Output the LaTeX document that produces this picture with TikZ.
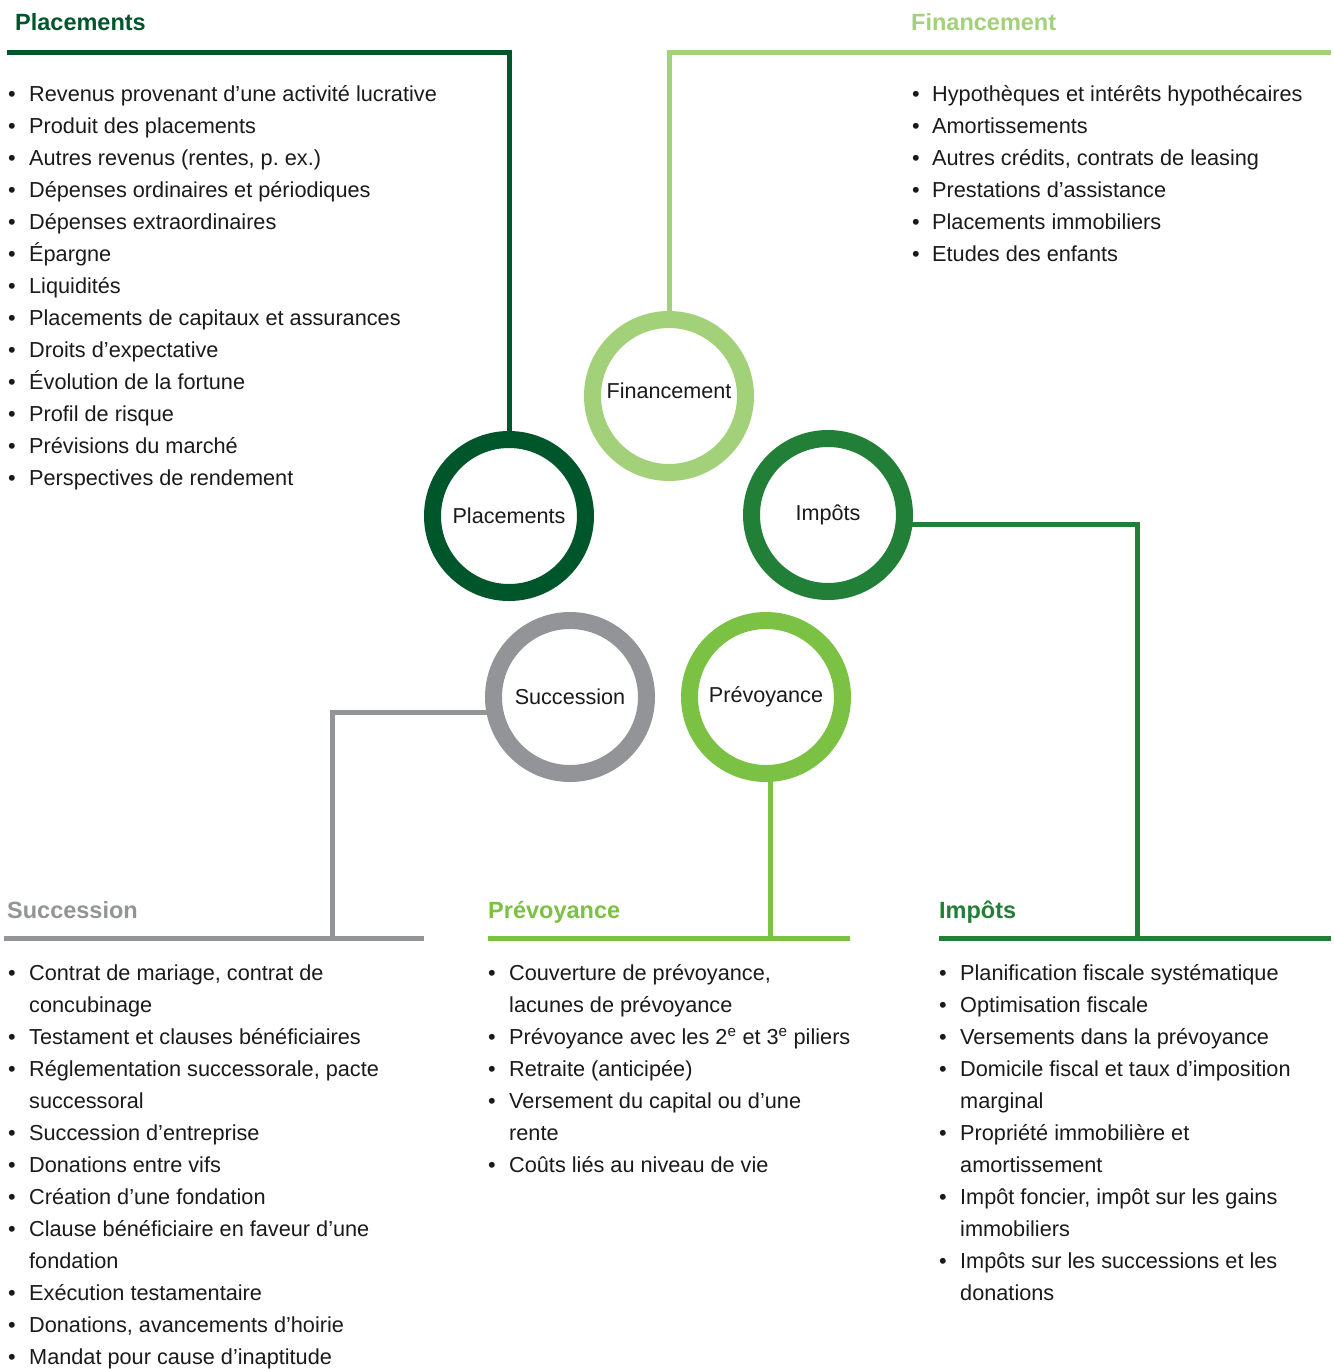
\documentclass[tikz,border=0pt]{standalone}
\usepackage{fontspec}
\setmainfont{Liberation Sans}
\definecolor{cplc}{HTML}{00562B}
\definecolor{cfin}{HTML}{A2D179}
\definecolor{cimp}{HTML}{217F37}
\definecolor{cprv}{HTML}{7BC143}
\definecolor{csuc}{HTML}{929497}
\definecolor{ctxt}{HTML}{1A1A1A}
\newcommand\blt[1][21pt]{\makebox[#1][l]{•}}
\newcommand\cnt[1][21pt]{\hspace*{#1}}
\tikzset{
  ring/.style={circle, draw=#1, line width=17pt, minimum size=153pt, inner sep=0pt, outer sep=0pt,
    font=\fontsize{21.6}{26}\selectfont, text=ctxt},
  conn/.style={draw=#1, line width=5pt, line join=miter, line cap=butt},
  head/.style={anchor=base west, inner sep=0pt, font=\fontsize{23.5}{28}\selectfont\bfseries, text=#1},
  lst/.style={anchor=base west, inner sep=0pt, align=left, font=\fontsize{21.7}{32}\selectfont, text=ctxt},
}
\begin{document}
\begin{tikzpicture}[x=1pt, y=-1pt]
\useasboundingbox[fill=white] (0,0) rectangle (1334,1369);

% circles
\node[ring=cplc] (P) at (509,516) {Placements};
\node[ring=cfin] (F) at (669,396) {\raisebox{10pt}{Financement}};
\node[ring=cimp] (I) at (828,515) {\raisebox{-2pt}{Impôts}};
\node[ring=csuc] (S) at (570,697) {\raisebox{-1pt}{Succession}};
\node[ring=cprv] (V) at (766,697) {\raisebox{-4pt}{Prévoyance}};

% free ends
\coordinate (pL) at (7,52.5);
\coordinate (fR) at (1331,52.5);
\coordinate (iK) at (1137.5,524);
\coordinate (iB) at (1137.5,938.5);
\coordinate (iL) at (939,938.5);
\coordinate (iR) at (1331,938.5);
\coordinate (vB) at (770,938.5);
\coordinate (vL) at (488,938.5);
\coordinate (vR) at (850,938.5);
\coordinate (sK) at (332.5,712.5);
\coordinate (sB) at (332.5,938.5);
\coordinate (sL) at (4,938.5);
\coordinate (sR) at (424,938.5);

% connectors
\draw[conn=cplc] (pL) -| (P.north);
\draw[conn=cfin] (fR) -| (F.north);
\draw[conn=cimp] ([yshift=-9pt]I.east) -- (iK) -- (iB);
\draw[conn=cimp] (iL) -- (iR);
\draw[conn=cprv] ([xshift=4pt]V.south) -- (vB);
\draw[conn=cprv] (vL) -- (vR);
\draw[conn=csuc] ([yshift=-15.5pt]S.west) -- (sK) -- (sB);
\draw[conn=csuc] (sL) -- (sR);

% headings
\node[head=cplc] (hP) at (15,30) {Placements};
\node[head=cfin] (hF) at (911,30) {Financement};
\node[head=csuc] (hS) at (7,918) {Succession};
\node[head=cprv] (hV) at (488,918) {Prévoyance};
\node[head=cimp] (hI) at (939,918) {Impôts};

% lists (anchor base = baseline of the last line)
\node[lst] (lP) at (8,485) {%
\blt Revenus provenant d’une activité lucrative\\
\blt Produit des placements\\
\blt Autres revenus (rentes, p.\ ex.)\\
\blt Dépenses ordinaires et périodiques\\
\blt Dépenses extraordinaires\\
\blt Épargne\\
\blt Liquidités\\
\blt Placements de capitaux et assurances\\
\blt Droits d’expectative\\
\blt Évolution de la fortune\\
\blt Profil de risque\\
\blt Prévisions du marché\\
\blt Perspectives de rendement};

\node[lst] (lF) at (912,261) {%
\blt[20pt]Hypothèques et intérêts hypothécaires\\
\blt[20pt]Amortissements\\
\blt[20pt]Autres crédits, contrats de leasing\\
\blt[20pt]Prestations d’assistance\\
\blt[20pt]Placements immobiliers\\
\blt[20pt]Etudes des enfants};

\node[lst] (lS) at (8,1364) {%
\blt Contrat de mariage, contrat de\\
\cnt concubinage\\
\blt Testament et clauses bénéficiaires\\
\blt Réglementation successorale, pacte\\
\cnt successoral\\
\blt Succession d’entreprise\\
\blt Donations entre vifs\\
\blt Création d’une fondation\\
\blt Clause bénéficiaire en faveur d’une\\
\cnt fondation\\
\blt Exécution testamentaire\\
\blt Donations, avancements d’hoirie\\
\blt Mandat pour cause d’inaptitude};

\node[lst] (lV) at (488,1172) {%
\blt Couverture de prévoyance,\\
\cnt lacunes de prévoyance\\
\blt Prévoyance avec les 2\textsuperscript{e} et 3\textsuperscript{e} piliers\\
\blt Retraite (anticipée)\\
\blt Versement du capital ou d’une\\
\cnt rente\\
\blt Coûts liés au niveau de vie};

\node[lst] (lI) at (939,1300) {%
\blt Planification fiscale systématique\\
\blt Optimisation fiscale\\
\blt Versements dans la prévoyance\\
\blt Domicile fiscal et taux d’imposition\\
\cnt marginal\\
\blt Propriété immobilière et\\
\cnt amortissement\\
\blt Impôt foncier, impôt sur les gains\\
\cnt immobiliers\\
\blt Impôts sur les successions et les\\
\cnt donations};
\end{tikzpicture}
\end{document}
